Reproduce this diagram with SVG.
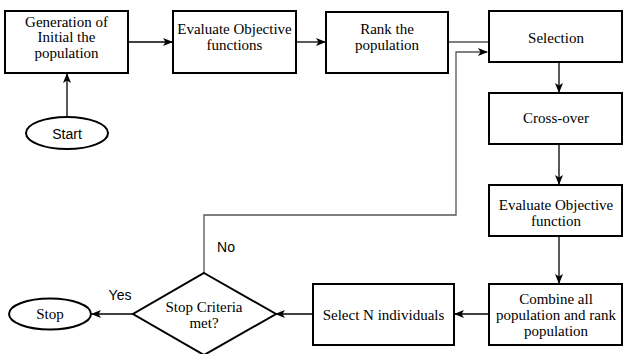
<svg xmlns="http://www.w3.org/2000/svg" width="624" height="354" viewBox="0 0 624 354">
<style>
.box{fill:#fff;stroke:#000;stroke-width:2}
.t{font-family:"Liberation Serif","Times New Roman",serif;font-size:15px;fill:#000;text-anchor:middle}
.s{font-family:"Liberation Sans",Arial,sans-serif;font-size:14px;fill:#000;text-anchor:middle}
.c{fill:none;stroke:#000;stroke-width:1.3}
.g{fill:none;stroke:#555;stroke-width:1.3}
</style>
<defs>
<marker id="a" viewBox="0 0 10 8" refX="9" refY="4" markerWidth="10" markerHeight="8" markerUnits="userSpaceOnUse" orient="auto">
<path d="M0,0 L10,4 L0,8 L2.5,4 z" fill="#000"/>
</marker>
</defs>
<rect width="624" height="354" fill="#fff"/>
<g id="connectors">
<line class="c" x1="67" y1="117" x2="67" y2="74" marker-end="url(#a)"/>
<line class="c" x1="128" y1="42" x2="172" y2="42" marker-end="url(#a)"/>
<line class="c" x1="296" y1="42" x2="325" y2="42" marker-end="url(#a)"/>
<line class="g" x1="448" y1="42" x2="489" y2="42"/>
<polyline class="g" points="204,273 204,215 456,215 456,52 487,52" marker-end="url(#a)"/>
<line class="c" x1="559" y1="62" x2="559" y2="92" marker-end="url(#a)"/>
<line class="c" x1="559" y1="144" x2="559" y2="184" marker-end="url(#a)"/>
<line class="c" x1="559" y1="236" x2="559" y2="283" marker-end="url(#a)"/>
<line class="c" x1="489" y1="314" x2="455" y2="314" marker-end="url(#a)"/>
<line class="c" x1="313" y1="314" x2="276" y2="314" marker-end="url(#a)"/>
<line class="c" x1="133" y1="314" x2="92" y2="314" marker-end="url(#a)"/>
<text class="s" x="120" y="300">Yes</text>
<text class="s" x="226" y="252">No</text>
</g>
<g id="start">
<ellipse class="box" cx="67" cy="133" rx="41" ry="16"/>
<text class="s" x="67" y="139">Start</text>
</g>
<g id="generation">
<rect class="box" x="5" y="11" width="123" height="62"/>
<text class="t" x="66.5" y="26.5">Generation of</text>
<text class="t" x="66.5" y="42">Initial the</text>
<text class="t" x="66.5" y="57.5">population</text>
</g>
<g id="evaluate1">
<rect class="box" x="173" y="11" width="123" height="62"/>
<text class="t" x="234.5" y="34">Evaluate Objective</text>
<text class="t" x="234.5" y="50">functions</text>
</g>
<g id="rank">
<rect class="box" x="326" y="12" width="122" height="61"/>
<text class="t" x="387" y="34">Rank the</text>
<text class="t" x="387" y="50">population</text>
</g>
<g id="selection">
<rect class="box" x="489" y="11" width="133" height="51"/>
<text class="t" x="556" y="43">Selection</text>
</g>
<g id="crossover">
<rect class="box" x="489" y="93" width="133" height="51"/>
<text class="t" x="556" y="123">Cross-over</text>
</g>
<g id="evaluate2">
<rect class="box" x="489" y="185" width="133" height="51"/>
<text class="t" x="556" y="209.5">Evaluate Objective</text>
<text class="t" x="556" y="225.5">function</text>
</g>
<g id="combine">
<rect class="box" x="489" y="284" width="133" height="61"/>
<text class="t" x="556" y="304">Combine all</text>
<text class="t" x="556" y="320">population and rank</text>
<text class="t" x="556" y="336">population</text>
</g>
<g id="selectn">
<rect class="box" x="313" y="284" width="141" height="61"/>
<text class="t" x="383.5" y="320">Select N individuals</text>
</g>
<g id="decision">
<polygon class="box" points="204,273 276,314 204,355 133,314"/>
<text class="t" x="204" y="312">Stop Criteria</text>
<text class="t" x="204" y="328">met?</text>
</g>
<g id="stop">
<ellipse class="box" cx="50" cy="314" rx="41" ry="15.5"/>
<text class="t" x="50" y="319">Stop</text>
</g>
</svg>
